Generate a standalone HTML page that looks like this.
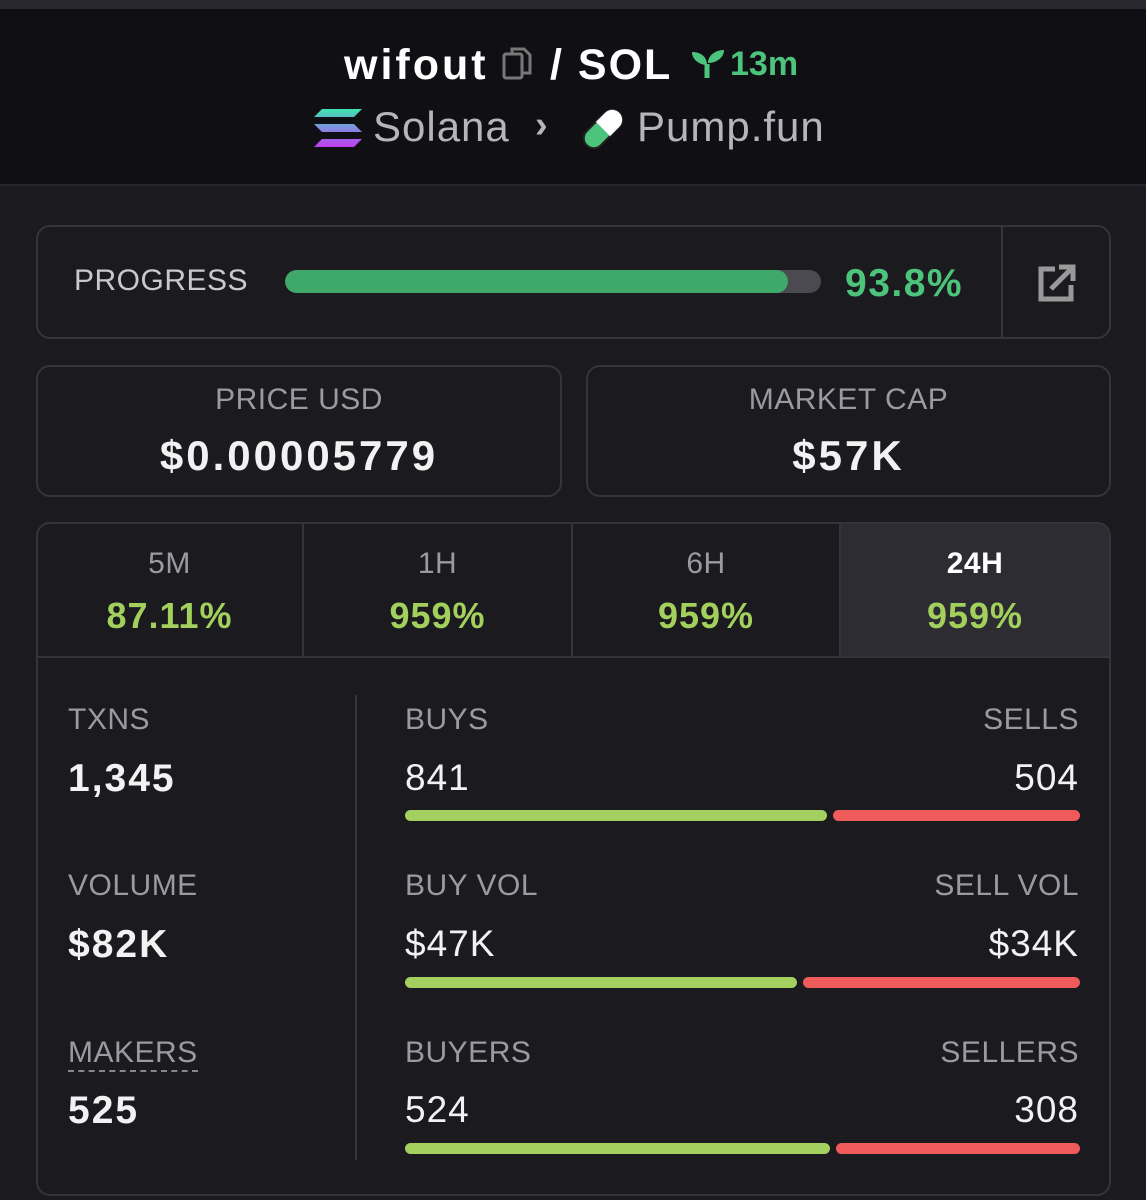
<!DOCTYPE html>
<html><head><meta charset="utf-8"><style>
*{margin:0;padding:0;box-sizing:border-box}
body{width:1146px;height:1200px;background:#1a1a1f;font-family:"Liberation Sans",sans-serif;position:relative;overflow:hidden;color:#fff}
.a{position:absolute;white-space:nowrap;line-height:1}
.box{position:absolute;border:2px solid #34343b;border-radius:14px}
.lab{color:#9a9aa1;font-size:30px;letter-spacing:0.5px}
.g{color:#a3d05c;font-weight:bold;font-size:36px;letter-spacing:1px}
.bar{position:absolute;height:11px;border-radius:6px}
.gb{background:#a4d05f}.rb{background:#ef5a5a}
.val{font-size:39px;font-weight:bold;color:#f2f2f2;letter-spacing:2px}
.num{font-size:37px;color:#f2f2f2;letter-spacing:1px}
</style></head><body>
<div class="a" style="left:0;top:0;width:1146px;height:9px;background:#28282e"></div>
<div class="a" style="left:0;top:9px;width:1146px;height:177px;background:#101014;border-bottom:2px solid #25252b"></div>
<div class="a" style="left:344px;top:44px;font-size:43px;font-weight:bold;letter-spacing:3px">wifout</div>
<svg class="a" style="left:502px;top:46px" width="32" height="36" viewBox="0 0 32 36"><rect x="2" y="8" width="18" height="24" rx="2" fill="none" stroke="#777" stroke-width="3"/><path d="M10 8V3h12l6 6v18H20" fill="none" stroke="#777" stroke-width="3"/></svg>
<div class="a" style="left:550px;top:44px;font-size:43px;font-weight:bold;letter-spacing:2px">/ SOL</div>
<svg class="a" style="left:690px;top:48px" width="36" height="32" viewBox="0 0 36 32"><path d="M17 30V16" stroke="#4cc47c" stroke-width="5"/><path d="M17 17C10 17 2 12 2 4c8 0 15 4 15 13zM18 15c0-8 8-13 16-13 0 8-8 13-16 13z" fill="#4cc47c"/></svg>
<div class="a" style="left:730px;top:47px;font-size:34px;font-weight:bold;color:#4cc47c">13m</div>
<svg class="a" style="left:314px;top:109px" width="48" height="38" viewBox="0 0 48 38"><defs><linearGradient id="s" x1="0" y1="0" x2="0" y2="1"><stop offset="0" stop-color="#3ee4b0"/><stop offset=".5" stop-color="#7f8fe0"/><stop offset="1" stop-color="#c03df0"/></linearGradient></defs><path d="M8 0h40l-8 8H0zM0 15h40l8 8H8zM8 30h40l-8 8H0z" fill="url(#s)"/></svg>
<div class="a" style="left:373px;top:106px;font-size:42px;color:#b5b5bb;letter-spacing:1px">Solana</div>
<div class="a" style="left:535px;top:106px;font-size:38px;color:#b5b5bb;font-weight:bold">›</div>
<svg class="a" style="left:580px;top:106px" width="46" height="46" viewBox="0 0 46 46"><g transform="rotate(45 23 23)"><rect x="13" y="0" width="20" height="46" rx="10" fill="#4cc47c" stroke="#222" stroke-width="2"/><path d="M13 23V10a10 10 0 0 1 20 0v13z" fill="#fff"/></g></svg>
<div class="a" style="left:637px;top:106px;font-size:42px;color:#b5b5bb;letter-spacing:1px">Pump.fun</div>

<div class="box" style="left:36px;top:225px;width:1075px;height:114px"></div>
<div class="a" style="left:1001px;top:226px;width:2px;height:112px;background:#34343b"></div>
<div class="a lab" style="left:74px;top:266px;color:#c8c8cd">PROGRESS</div>
<div class="a" style="left:285px;top:270px;width:536px;height:23px;border-radius:12px;background:#4a4a50;overflow:hidden"><div style="width:503px;height:100%;background:#3fa96b;border-radius:12px"></div></div>
<div class="a" style="left:845px;top:264px;font-size:39px;font-weight:bold;color:#4cc47c;letter-spacing:1.5px">93.8%</div>
<svg class="a" style="left:1037px;top:263px" width="40" height="40" viewBox="0 0 40 40"><path d="M18 6H4v30h30V22" fill="none" stroke="#999" stroke-width="5"/><path d="M14 26L34 6M22 4h14v14" fill="none" stroke="#999" stroke-width="5"/></svg>

<div class="box" style="left:36px;top:365px;width:526px;height:132px"></div>
<div class="a lab" style="left:36px;width:526px;text-align:center;top:385px">PRICE USD</div>
<div class="a val" style="left:36px;width:526px;text-align:center;top:435px;font-size:42px;letter-spacing:3px">$0.00005779</div>
<div class="box" style="left:586px;top:365px;width:525px;height:132px"></div>
<div class="a lab" style="left:586px;width:525px;text-align:center;top:385px">MARKET CAP</div>
<div class="a val" style="left:586px;width:525px;text-align:center;top:435px;font-size:42px;letter-spacing:3px">$57K</div>

<div class="box" style="left:36px;top:522px;width:1075px;height:674px;overflow:hidden">
<div class="a" style="left:802px;top:0;width:275px;height:134px;background:#2c2c32"></div>
</div>
<div class="a" style="left:37px;top:656px;width:1073px;height:2px;background:#34343b"></div>
<div class="a" style="left:302px;top:523px;width:2px;height:134px;background:#34343b"></div>
<div class="a" style="left:571px;top:523px;width:2px;height:134px;background:#34343b"></div>
<div class="a" style="left:839px;top:523px;width:2px;height:134px;background:#34343b"></div>
<div class="a lab" style="left:37px;width:265px;text-align:center;top:549px">5M</div>
<div class="a g" style="left:37px;width:265px;text-align:center;top:598px">87.11%</div>
<div class="a lab" style="left:304px;width:267px;text-align:center;top:549px">1H</div>
<div class="a g" style="left:304px;width:267px;text-align:center;top:598px">959%</div>
<div class="a lab" style="left:573px;width:266px;text-align:center;top:549px">6H</div>
<div class="a g" style="left:573px;width:266px;text-align:center;top:598px">959%</div>
<div class="a lab" style="left:841px;width:268px;text-align:center;top:549px;color:#fff;font-weight:bold">24H</div>
<div class="a g" style="left:841px;width:268px;text-align:center;top:598px">959%</div>

<div class="a" style="left:355px;top:695px;width:2px;height:465px;background:#34343b"></div>

<div class="a lab" style="left:68px;top:705px">TXNS</div>
<div class="a val" style="left:68px;top:759px">1,345</div>
<div class="a lab" style="left:68px;top:871px">VOLUME</div>
<div class="a val" style="left:68px;top:925px">$82K</div>
<div class="a lab" style="left:68px;top:1038px;border-bottom:2px dashed #888;padding-bottom:2px">MAKERS</div>
<div class="a val" style="left:68px;top:1091px">525</div>

<div class="a lab" style="left:405px;top:705px">BUYS</div>
<div class="a lab" style="right:67px;top:705px">SELLS</div>
<div class="a num" style="left:405px;top:759px">841</div>
<div class="a num" style="right:67px;top:759px">504</div>
<div class="bar gb" style="left:405px;top:810px;width:422px"></div>
<div class="bar rb" style="left:833px;top:810px;width:247px"></div>

<div class="a lab" style="left:405px;top:871px">BUY VOL</div>
<div class="a lab" style="right:67px;top:871px">SELL VOL</div>
<div class="a num" style="left:405px;top:925px">$47K</div>
<div class="a num" style="right:67px;top:925px">$34K</div>
<div class="bar gb" style="left:405px;top:977px;width:392px"></div>
<div class="bar rb" style="left:803px;top:977px;width:277px"></div>

<div class="a lab" style="left:405px;top:1038px">BUYERS</div>
<div class="a lab" style="right:67px;top:1038px">SELLERS</div>
<div class="a num" style="left:405px;top:1091px">524</div>
<div class="a num" style="right:67px;top:1091px">308</div>
<div class="bar gb" style="left:405px;top:1143px;width:425px"></div>
<div class="bar rb" style="left:836px;top:1143px;width:244px"></div>
</body></html>
